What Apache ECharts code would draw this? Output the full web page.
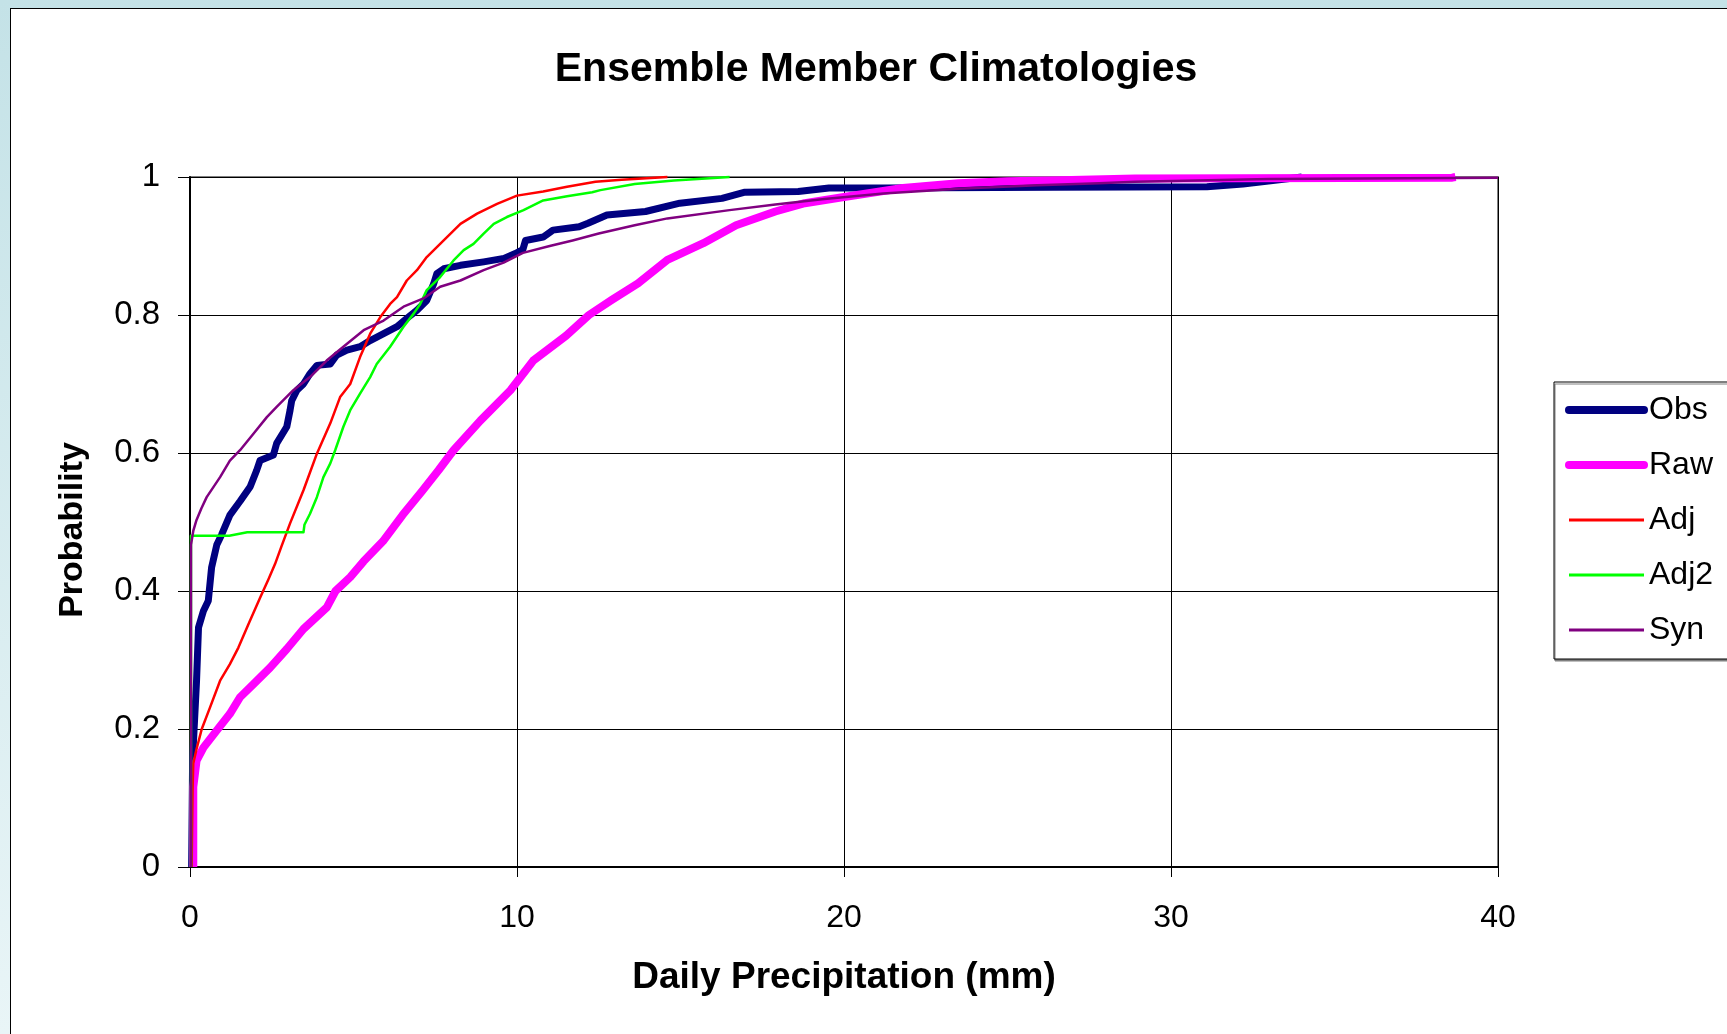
<!DOCTYPE html>
<html>
<head>
<meta charset="utf-8">
<script src="https://cdn.jsdelivr.net/npm/echarts@6/dist/echarts.min.js"></script>
<style>
html,body{margin:0;padding:0;width:1727px;height:1034px;overflow:hidden;}
body{background:linear-gradient(#c4e2e7,#e9f5f7);}
#panel{position:absolute;left:10px;top:8px;width:1760px;height:1060px;background:#fff;border:1px solid #000;}
#chart{position:absolute;left:0;top:0;width:1727px;height:1034px;}
</style>
</head>
<body>
<div id="panel"></div>
<div id="chart"></div>
<script>
// Tick settings
var xTicks = [0, 10, 20, 30, 40];
var yTicks = [0, 0.2, 0.4, 0.6, 0.8, 1];

var seriesNames = ['Obs', 'Raw', 'Adj', 'Adj2', 'Syn'];

// [daily precipitation (mm), cumulative probability]
var obs = [[0.05,0],[0.08,0.157],[0.2,0.27],[0.26,0.347],[0.41,0.371],[0.56,0.386],[0.66,0.434],[0.82,0.467],[0.97,0.482],[1.22,0.51],[1.53,0.53],[1.84,0.551],[2.04,0.575],[2.14,0.589],[2.55,0.597],[2.65,0.614],[2.96,0.638],[3.06,0.662],[3.11,0.676],[3.27,0.691],[3.47,0.7],[3.67,0.715],[3.88,0.727],[4.29,0.729],[4.49,0.742],[4.8,0.749],[5.2,0.754],[5.51,0.763],[5.92,0.773],[6.33,0.783],[6.63,0.795],[6.94,0.807],[7.24,0.821],[7.45,0.845],[7.55,0.86],[7.76,0.867],[8.27,0.872],[8.98,0.877],[9.6,0.882],[9.95,0.889],[10.18,0.895],[10.26,0.908],[10.8,0.913],[11.1,0.923],[11.9,0.928],[12.17,0.933],[12.75,0.945],[13.93,0.95],[14.98,0.962],[16.27,0.969],[16.97,0.978],[18.6,0.979],[19.54,0.984],[21.2,0.984],[26.4,0.985],[31.1,0.986],[32.2,0.99],[33.5,0.997],[34,1]];

var raw = [[0.1,0],[0.1,0.116],[0.2,0.154],[0.41,0.173],[0.82,0.198],[1.22,0.222],[1.53,0.246],[1.94,0.265],[2.45,0.289],[2.96,0.316],[3.47,0.345],[4.18,0.376],[4.45,0.4],[4.9,0.42],[5.31,0.443],[5.9,0.472],[6.5,0.51],[7.1,0.545],[7.6,0.575],[8.06,0.604],[8.88,0.647],[9.8,0.691],[10.5,0.734],[11.5,0.77],[12.2,0.8],[12.9,0.822],[13.7,0.846],[14.6,0.88],[15.7,0.904],[16.7,0.93],[17.9,0.95],[18.8,0.962],[20,0.971],[21.8,0.984],[23.5,0.991],[25,0.994],[26.3,0.995],[28.9,0.998],[38.6,0.999],[38.7,1]];

var adj = [[0.05,0],[0.08,0.115],[0.1,0.15],[0.2,0.171],[0.36,0.2],[0.61,0.231],[0.92,0.27],[1.22,0.294],[1.48,0.318],[1.79,0.352],[2.14,0.39],[2.4,0.417],[2.6,0.439],[2.8,0.465],[3.06,0.498],[3.47,0.546],[3.88,0.599],[4.29,0.643],[4.59,0.681],[4.9,0.7],[5.2,0.739],[5.51,0.773],[5.82,0.797],[6.12,0.816],[6.33,0.826],[6.63,0.85],[6.94,0.865],[7.24,0.884],[7.65,0.903],[8.27,0.932],[8.78,0.947],[9.39,0.961],[10.0,0.973],[10.8,0.979],[11.53,0.986],[12.4,0.993],[13.2,0.996],[14.6,1.0]];

var adj2 = [[0.03,0],[0.03,0.48],[1.2,0.48],[1.75,0.485],[3.47,0.485],[3.5,0.496],[3.67,0.512],[3.88,0.536],[4.08,0.565],[4.29,0.585],[4.44,0.604],[4.69,0.638],[4.9,0.662],[5.2,0.686],[5.51,0.71],[5.71,0.729],[6.12,0.754],[6.53,0.783],[6.84,0.802],[7.04,0.816],[7.24,0.836],[7.65,0.855],[8.06,0.879],[8.37,0.894],[8.67,0.903],[8.98,0.918],[9.29,0.932],[9.69,0.942],[10.2,0.952],[10.8,0.966],[11.53,0.972],[12.3,0.978],[12.55,0.981],[13.6,0.99],[14.8,0.995],[16.5,1.0]];

var syn = [[0.03,0],[0.03,0.467],[0.1,0.487],[0.2,0.503],[0.35,0.52],[0.51,0.536],[0.92,0.565],[1.22,0.589],[1.53,0.604],[1.94,0.628],[2.35,0.652],[2.65,0.667],[3.16,0.691],[3.67,0.71],[4.18,0.734],[4.69,0.754],[5.31,0.778],[5.92,0.792],[6.53,0.812],[7.14,0.824],[7.65,0.841],[8.27,0.85],[8.98,0.865],[9.59,0.876],[10.18,0.89],[11.0,0.9],[11.7,0.908],[12.5,0.918],[13.6,0.93],[14.6,0.94],[16.5,0.952],[17.9,0.96],[19.4,0.968],[21.2,0.976],[23.5,0.983],[25.9,0.988],[27.8,0.991],[28.9,0.993],[33,0.997],[40,0.999]];

var FONT = '"Liberation Sans", Arial, sans-serif';
var colors = ['#000080', '#ff00ff', '#ff0000', '#00ff00', '#800080'];
var widths = [7, 8, 2.5, 2.5, 2.5];
var datasets = [obs, raw, adj, adj2, syn];

var chart = echarts.init(document.getElementById('chart'), null, {renderer: 'canvas'});

var series = seriesNames.map(function (n, i) {
  return {
    name: n,
    type: 'line',
    data: datasets[i],
    symbol: 'none',
    showSymbol: false,
    clip: false,
    lineStyle: {color: colors[i], width: widths[i], join: 'round'},
    itemStyle: {color: colors[i]},
    emphasis: {disabled: true},
    z: 3 + i
  };
});

var legendData = seriesNames.map(function (n, i) {
  return {
    name: n,
    itemStyle: {opacity: 0, borderWidth: 0},
    lineStyle: {width: i < 2 ? 8 : 3, cap: i < 2 ? 'round' : 'butt', opacity: 1}
  };
});

chart.setOption({
  animation: false,
  backgroundColor: 'transparent',
  textStyle: {fontFamily: FONT},
  title: {
    text: 'Ensemble Member Climatologies',
    left: 871,
    textAlign: 'center',
    top: 44,
    textStyle: {fontFamily: FONT, fontSize: 41, fontWeight: 'bold', color: '#000'}
  },
  grid: {
    left: 190, top: 177, right: 229, bottom: 167,
    show: true, borderColor: '#808080', borderWidth: 2, backgroundColor: 'transparent'
  },
  legend: {
    orient: 'vertical',
    left: 1554, top: 382,
    padding: [12, 18, 13, 11],
    itemWidth: 75, itemHeight: 14, itemGap: 23,
    backgroundColor: '#fff', borderColor: '#000', borderWidth: 1,
    shadowColor: '#808080', shadowOffsetY: 2, shadowOffsetX: 1, shadowBlur: 0,
    selectedMode: false,
    textStyle: {fontFamily: FONT, fontSize: 32, color: '#000'},
    data: legendData
  },
  xAxis: {
    type: 'value', min: xTicks[0], max: xTicks[xTicks.length - 1], interval: xTicks[1] - xTicks[0],
    name: 'Daily Precipitation (mm)', nameLocation: 'middle', nameGap: 92,
    nameTextStyle: {fontFamily: FONT, fontSize: 37, fontWeight: 'bold', color: '#000'},
    axisLine: {show: true, onZero: false, lineStyle: {color: '#000', width: 2}},
    axisTick: {show: true, length: 10, lineStyle: {color: '#000', width: 1}},
    axisLabel: {fontFamily: FONT, fontSize: 32, color: '#000', margin: 35},
    splitLine: {show: true, lineStyle: {color: '#000', width: 1}}
  },
  yAxis: {
    type: 'value', min: yTicks[0], max: yTicks[yTicks.length - 1], interval: yTicks[1] - yTicks[0],
    name: 'Probability', nameLocation: 'middle', nameGap: 100,
    nameTextStyle: {fontFamily: FONT, fontSize: 34, fontWeight: 'bold', color: '#000', padding: [0, 16, 0, 0]},
    axisLine: {show: true, onZero: false, lineStyle: {color: '#000', width: 2}},
    axisTick: {show: true, length: 12, lineStyle: {color: '#000', width: 1}},
    axisLabel: {fontFamily: FONT, fontSize: 33, color: '#000', margin: 30,
      formatter: function (v) { return String(Math.round(v * 10) / 10); }},
    splitLine: {show: true, lineStyle: {color: '#000', width: 1}}
  },
  series: series
});
</script>
</body>
</html>
